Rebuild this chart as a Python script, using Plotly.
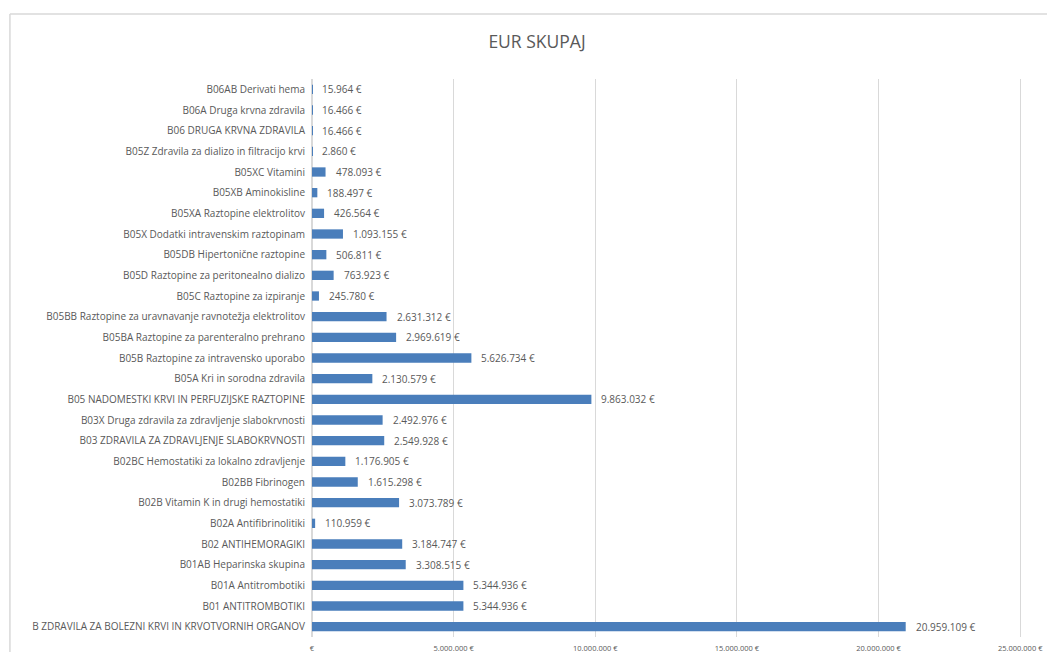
import plotly.graph_objects as go

categories = [
    "B06AB Derivati hema",
    "B06A Druga krvna zdravila",
    "B06 DRUGA KRVNA ZDRAVILA",
    "B05Z Zdravila za dializo in filtracijo krvi",
    "B05XC Vitamini",
    "B05XB Aminokisline",
    "B05XA Raztopine elektrolitov",
    "B05X Dodatki intravenskim raztopinam",
    "B05DB Hipertonične raztopine",
    "B05D Raztopine za peritonealno dializo",
    "B05C Raztopine za izpiranje",
    "B05BB Raztopine za uravnavanje ravnotežja elektrolitov",
    "B05BA Raztopine za parenteralno prehrano",
    "B05B Raztopine za intravensko uporabo",
    "B05A Kri in sorodna zdravila",
    "B05 NADOMESTKI KRVI IN PERFUZIJSKE RAZTOPINE",
    "B03X Druga zdravila za zdravljenje slabokrvnosti",
    "B03 ZDRAVILA ZA ZDRAVLJENJE SLABOKRVNOSTI",
    "B02BC Hemostatiki za lokalno zdravljenje",
    "B02BB Fibrinogen",
    "B02B Vitamin K in drugi hemostatiki",
    "B02A Antifibrinolitiki",
    "B02 ANTIHEMORAGIKI",
    "B01AB Heparinska skupina",
    "B01A Antitrombotiki",
    "B01 ANTITROMBOTIKI",
    "B ZDRAVILA ZA BOLEZNI KRVI IN KRVOTVORNIH ORGANOV",
]

eur_values = [
    15964, 16466, 16466, 2860, 478093, 188497, 426564, 1093155, 506811,
    763923, 245780, 2631312, 2969619, 5626734, 2130579, 9863032, 2492976,
    2549928, 1176905, 1615298, 3073789, 110959, 3184747, 3308515, 5344936,
    5344936, 20959109,
]

tick_values = [0, 5000000, 10000000, 15000000, 20000000, 25000000]
tick_labels = ["€", "5.000.000 €", "10.000.000 €", "15.000.000 €", "20.000.000 €", "25.000.000 €"]

title_text = "EUR SKUPAJ"

FONT = "Open Sans, Liberation Sans, sans-serif"
GREY = "#595959"
GRID = "#d9d9d9"
BAR = "#4a7ebb"


def fmt_eur(v):
    return f"{v:,}".replace(",", ".") + " €"


fig = go.Figure()
fig.add_trace(go.Bar(
    x=eur_values,
    y=categories,
    orientation="h",
    marker=dict(color=BAR, line=dict(width=0)),
    width=0.45,
    hoverinfo="x+y",
))

annotations = []
for c, v in zip(categories, eur_values):
    annotations.append(dict(
        x=v, y=c, xref="x", yref="y",
        text=fmt_eur(v), showarrow=False,
        xanchor="left", yanchor="middle", xshift=8,
        font=dict(family=FONT, size=10, color=GREY),
    ))

# page body has an 8px margin; figure coordinates are page coordinates minus 8
OFF = 8
X_MAX = 25100000
x0_page, x25_page = 312, 1020
xright_page = x0_page + (x25_page - x0_page) * X_MAX / 25000000
W, H = 1055 - OFF, 660 - 2 * OFF
ml, mt = x0_page - OFF, 79 - OFF
mr = W - (xright_page - OFF)
mb = H - (637 - OFF)
pw, ph = W - ml - mr, H - mt - mb
left_px, top_px = 10 - OFF, 14 - OFF
px_left = (left_px - ml) / pw
py_top = 1 + (mt - top_px) / ph
py_bottom = -(mb + 5) / ph
px_right = 1 + (mr + 5) / pw

shapes = [
    dict(type="line", xref="paper", yref="paper", x0=px_left, x1=px_left,
         y0=py_bottom, y1=py_top, line=dict(color=GRID, width=1.5)),
    dict(type="line", xref="paper", yref="paper", x0=px_left, x1=px_right,
         y0=py_top, y1=py_top, line=dict(color=GRID, width=1.5)),
]

fig.update_layout(
    width=W, height=H,
    margin=dict(l=ml, r=mr, t=mt, b=mb, pad=0, autoexpand=False),
    paper_bgcolor="white", plot_bgcolor="white",
    title=dict(text=title_text, x=(537 - OFF) / W, xanchor="center",
               y=1 - (42 - OFF) / H, yanchor="middle",
               font=dict(family=FONT, size=17.5, color=GREY)),
    font=dict(family=FONT, color=GREY),
    showlegend=False,
    bargap=0.55,
    xaxis=dict(
        range=[0, X_MAX],
        tickvals=tick_values, ticktext=tick_labels,
        tickfont=dict(family=FONT, size=7.5, color=GREY),
        showgrid=True, gridcolor=GRID, gridwidth=1,
        zeroline=True, zerolinecolor=GRID, zerolinewidth=1.5,
        showline=False, ticks="", fixedrange=True,
        automargin=False, ticklabelstandoff=5,
    ),
    yaxis=dict(
        autorange="reversed",
        tickfont=dict(family=FONT, size=10, color=GREY),
        showgrid=False, zeroline=False, showline=False, ticks="",
        ticklabelstandoff=6, automargin=False,
    ),
    annotations=annotations,
    shapes=shapes,
)

fig.write_html("out.html")
